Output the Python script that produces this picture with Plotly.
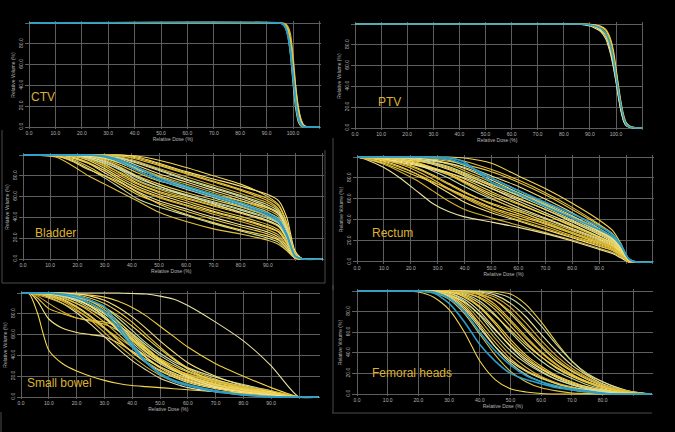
import plotly.graph_objects as go

W, H = 675, 432

# ---- data (relative dose % on x, relative volume % on y) ----
ctv_dose = [0, 95, 96, 97, 98, 99, 100, 101, 102, 103, 104, 105, 110]
ctv_yellow = [
    [100, 100, 99.5, 98, 93, 80, 55, 28, 10, 3, 0.5, 0, 0],
    [100, 100, 100, 99, 96, 86, 62, 32, 12, 4, 1, 0, 0],
    [100, 100, 99, 96, 88, 70, 42, 18, 5, 1, 0, 0, 0],
    [100, 100, 100, 99.5, 97, 90, 70, 40, 16, 5, 1, 0, 0],
    [100, 100, 99, 97, 91, 78, 58, 36, 18, 7, 2, 0.5, 0],
    [100, 100, 99.5, 98, 94, 84, 64, 40, 20, 8, 2, 0.5, 0],
]
ctv_cyan = [
    [100, 100, 99, 96, 88, 72, 48, 24, 8, 2, 0, 0, 0],
    [100, 100, 99.5, 97, 90, 76, 52, 27, 10, 3, 0.5, 0, 0],
]

ptv_dose = [0, 86, 88, 90, 92, 94, 96, 97, 98, 99, 100, 101, 102, 103, 104, 106, 110]
ptv_yellow = [
    [100, 100, 99.5, 98.5, 97, 94, 88, 82, 72, 60, 45, 30, 17, 8, 3, 0.5, 0],
    [100, 100, 100, 99.5, 99, 97.5, 94, 90, 83, 72, 56, 38, 22, 10, 4, 1, 0],
    [100, 100, 99.5, 99, 97.5, 95, 90, 84, 76, 64, 48, 30, 16, 6, 2, 0.5, 0],
    [100, 100, 100, 99.5, 98.5, 96.5, 92, 88, 80, 69, 53, 36, 21, 10, 4, 1, 0],
    [100, 99.8, 99, 98, 96, 93, 86, 79, 70, 58, 44, 28, 15, 6, 2, 0, 0],
    [100, 100, 100, 99.8, 99.3, 98, 95, 91, 85, 75, 58, 40, 24, 12, 5, 1, 0],
]
ptv_cyan = [
    [100, 100, 99.8, 99, 98, 96, 91, 86, 78, 66, 50, 34, 20, 9, 3, 0.5, 0],
]

bladder_dose = [0, 12, 18, 24, 30, 36, 42, 50, 60, 70, 80, 90, 94, 97, 100, 103, 110]
bladder_yellow = [
    [100, 100, 100, 100, 100, 100, 99, 95, 88, 80, 72, 60, 52, 35, 6, 0, 0],
    [100, 100, 100, 100, 100, 99, 96, 90, 82, 74, 66, 56, 48, 30, 5, 0, 0],
    [100, 100, 100, 100, 99, 97, 92, 85, 76, 68, 60, 50, 44, 28, 4, 0, 0],
    [100, 100, 100, 100, 98, 94, 88, 80, 72, 64, 56, 47, 41, 26, 4, 0, 0],
    [100, 100, 100, 99, 97, 92, 85, 76, 67, 59, 51, 42, 37, 24, 3, 0, 0],
    [100, 100, 100, 99, 95, 88, 80, 72, 64, 57, 50, 41, 36, 22, 3, 0, 0],
    [100, 100, 100, 98, 93, 85, 76, 68, 61, 54, 47, 39, 34, 21, 3, 0, 0],
    [100, 100, 99, 97, 91, 82, 73, 65, 58, 51, 44, 36, 31, 19, 2, 0, 0],
    [100, 100, 99, 96, 89, 80, 72, 64, 56, 48, 41, 33, 28, 17, 2, 0, 0],
    [100, 100, 99, 95, 87, 78, 70, 62, 54, 46, 39, 31, 26, 15, 2, 0, 0],
    [100, 100, 98, 93, 85, 76, 67, 59, 51, 43, 36, 28, 23, 13, 1, 0, 0],
    [100, 100, 98, 92, 83, 74, 65, 56, 48, 40, 33, 26, 21, 12, 1, 0, 0],
    [100, 99, 96, 89, 80, 71, 62, 54, 46, 38, 31, 24, 19, 10, 1, 0, 0],
    [100, 99, 95, 87, 78, 68, 58, 50, 42, 34, 27, 20, 16, 8, 1, 0, 0],
    [100, 99, 94, 86, 80, 73, 64, 53, 43, 35, 28, 22, 18, 10, 1, 0, 0],
    [100, 98, 90, 80, 72, 64, 56, 45, 36, 29, 24, 18, 14, 8, 1, 0, 0],
    [100, 100, 100, 100, 100, 100, 98, 92, 84, 77, 70, 62, 56, 40, 8, 0, 0],
    [100, 100, 100, 100, 100, 98, 94, 87, 79, 71, 63, 54, 47, 32, 5, 0, 0],
    [100, 100, 100, 100, 99, 96, 90, 82, 74, 66, 58, 49, 43, 28, 4, 0, 0],
    [100, 100, 100, 99, 96, 90, 83, 75, 69, 62, 56, 49, 45, 30, 5, 0, 0],
    [100, 100, 99, 97, 92, 86, 78, 70, 62, 55, 48, 40, 35, 22, 3, 0, 0],
    [100, 100, 100, 100, 97, 92, 86, 79, 70, 62, 54, 45, 38, 25, 3, 0, 0],
    [100, 100, 100, 100, 100, 99, 97, 91, 83, 75, 67, 58, 51, 34, 5, 0, 0],
    [100, 100, 100, 99, 97, 93, 87, 78, 69, 61, 53, 44, 39, 25, 3, 0, 0],
    [100, 100, 99, 96, 90, 83, 75, 67, 59, 52, 45, 37, 32, 20, 2, 0, 0],
    [100, 100, 100, 98, 94, 87, 79, 70, 61, 53, 45, 37, 32, 20, 2, 0, 0],
    [100, 99, 97, 92, 85, 76, 68, 60, 52, 45, 38, 30, 26, 16, 2, 0, 0],
    [100, 100, 100, 100, 99, 97, 93, 86, 77, 69, 61, 52, 46, 30, 4, 0, 0],
]
bladder_cyan = [
    [100, 100, 100, 100, 99, 95, 88, 78, 70, 62, 54, 44, 38, 24, 3, 0, 0],
    [100, 100, 100, 100, 98, 93, 85, 76, 68, 60, 52, 42, 36, 22, 3, 0, 0],
]

rectum_dose = [0, 4, 10, 16, 22, 28, 34, 40, 50, 60, 70, 80, 90, 95, 98, 101, 104, 110]
rectum_yellow = [
    [100, 100, 100, 100, 100, 100, 100, 99, 94, 82, 70, 56, 40, 30, 18, 3, 0, 0],
    [100, 100, 100, 100, 100, 100, 99, 96, 88, 78, 66, 52, 36, 27, 16, 2, 0, 0],
    [100, 100, 100, 100, 100, 99, 97, 92, 82, 72, 60, 47, 32, 24, 14, 2, 0, 0],
    [100, 100, 100, 100, 99, 97, 93, 87, 76, 66, 55, 42, 29, 21, 12, 1, 0, 0],
    [100, 100, 100, 99, 97, 93, 88, 82, 70, 60, 50, 38, 26, 19, 11, 1, 0, 0],
    [100, 100, 99, 98, 95, 90, 84, 77, 65, 55, 45, 34, 23, 17, 10, 1, 0, 0],
    [100, 100, 99, 97, 93, 87, 80, 72, 60, 50, 41, 31, 21, 15, 9, 1, 0, 0],
    [100, 99, 98, 95, 90, 83, 75, 67, 55, 46, 37, 28, 19, 14, 8, 1, 0, 0],
    [100, 99, 97, 93, 87, 79, 70, 62, 51, 42, 34, 25, 17, 12, 7, 1, 0, 0],
    [100, 99, 96, 91, 84, 75, 66, 57, 47, 39, 31, 23, 15, 11, 6, 0, 0, 0],
    [100, 98, 93, 86, 78, 68, 58, 50, 42, 35, 28, 21, 13, 9, 5, 0, 0, 0],
    [100, 97, 90, 80, 68, 56, 48, 43, 38, 33, 27, 20, 12, 8, 4, 0, 0, 0],
    [100, 98, 94, 88, 82, 76, 70, 63, 52, 44, 36, 27, 18, 13, 7, 1, 0, 0],
    [100, 100, 100, 99, 98, 96, 94, 90, 80, 68, 56, 44, 31, 23, 13, 1, 0, 0],
    [100, 100, 99, 98, 96, 94, 90, 84, 72, 61, 50, 39, 27, 20, 11, 1, 0, 0],
    [100, 100, 100, 100, 99, 98, 96, 93, 86, 76, 64, 50, 35, 26, 15, 2, 0, 0],
    [100, 99, 97, 95, 92, 88, 83, 76, 63, 52, 42, 32, 22, 16, 9, 1, 0, 0],
    [100, 100, 99, 97, 94, 89, 83, 75, 61, 49, 38, 28, 19, 14, 8, 1, 0, 0],
    [100, 99, 98, 96, 93, 89, 85, 80, 70, 58, 47, 36, 24, 18, 10, 1, 0, 0],
    [100, 100, 100, 99, 97, 94, 89, 83, 73, 64, 54, 43, 30, 22, 12, 1, 0, 0],
    [100, 100, 100, 99, 98, 95, 91, 85, 74, 63, 52, 40, 28, 21, 12, 1, 0, 0],
    [100, 100, 99, 97, 94, 90, 85, 79, 67, 56, 45, 35, 24, 18, 10, 1, 0, 0],
    [100, 99, 97, 94, 89, 82, 74, 66, 56, 48, 39, 30, 20, 15, 8, 1, 0, 0],
    [100, 100, 100, 100, 99, 97, 94, 89, 78, 66, 54, 42, 29, 22, 13, 1, 0, 0],
    [100, 98, 95, 90, 84, 77, 69, 61, 49, 40, 32, 24, 16, 11, 6, 0, 0, 0],
]
rectum_cyan = [
    [100, 100, 100, 100, 100, 100, 99.5, 95, 76, 65, 53, 42, 31, 24, 16, 3, 0, 0],
    [100, 100, 100, 100, 100, 99, 98, 93, 80, 68, 57, 46, 34, 26, 17, 3, 0, 0],
]

bowel_dose = [0, 3, 6, 10, 15, 20, 25, 30, 35, 40, 45, 50, 55, 60, 70, 80, 90, 100, 107]
bowel_yellow = [
    [100, 99, 80, 45, 32, 25, 20, 16, 13, 11, 10, 9, 8, 7, 5, 4, 2, 0, 0],
    [100, 100, 95, 85, 80, 76, 73, 70, 64, 55, 44, 34, 26, 20, 12, 7, 3, 0, 0],
    [100, 100, 92, 75, 66, 62, 60, 58, 52, 44, 36, 29, 23, 18, 11, 6, 3, 0, 0],
    [100, 100, 97, 90, 82, 76, 74, 72, 68, 60, 48, 36, 26, 19, 11, 6, 3, 0, 0],
    [100, 100, 100, 100, 100, 100, 100, 100, 100, 99.5, 99, 97, 94, 88, 72, 54, 30, 0, 0],
    [100, 100, 100, 100, 100, 99, 98, 96, 92, 86, 78, 68, 58, 48, 32, 20, 9, 0, 0],
    [100, 100, 100, 100, 99, 97, 93, 86, 76, 64, 52, 42, 34, 28, 19, 12, 6, 0, 0],
    [100, 100, 100, 99, 97, 93, 87, 78, 66, 54, 43, 34, 27, 22, 14, 9, 4, 0, 0],
    [100, 100, 100, 99, 96, 90, 82, 72, 60, 48, 38, 29, 22, 17, 10, 6, 3, 0, 0],
    [100, 100, 100, 98, 94, 87, 78, 67, 55, 43, 33, 25, 19, 14, 8, 4, 2, 0, 0],
    [100, 100, 99, 97, 92, 84, 74, 62, 50, 39, 29, 21, 15, 11, 6, 3, 1, 0, 0],
    [100, 100, 99, 96, 90, 81, 70, 58, 46, 35, 26, 18, 13, 9, 5, 2, 1, 0, 0],
    [100, 100, 100, 100, 99, 98, 95, 90, 82, 72, 60, 48, 37, 28, 17, 10, 5, 0, 0],
    [100, 100, 100, 100, 98, 95, 90, 82, 72, 61, 50, 40, 32, 25, 16, 10, 5, 0, 0],
    [100, 100, 100, 99, 98, 96, 92, 86, 78, 68, 57, 46, 36, 27, 15, 8, 3, 0, 0],
    [100, 100, 99, 98, 95, 90, 84, 76, 66, 56, 46, 37, 30, 24, 15, 9, 4, 0, 0],
    [100, 100, 100, 100, 100, 99, 97, 93, 86, 77, 66, 54, 43, 33, 20, 11, 5, 0, 0],
    [100, 100, 98, 95, 90, 83, 75, 66, 57, 48, 40, 33, 27, 22, 15, 10, 6, 0, 0],
    [100, 100, 100, 99, 97, 94, 88, 80, 70, 58, 46, 35, 26, 19, 10, 5, 2, 0, 0],
    [100, 100, 100, 100, 99, 97, 92, 84, 73, 60, 47, 36, 28, 21, 13, 8, 4, 0, 0],
    [100, 100, 100, 99, 97, 92, 85, 76, 64, 52, 41, 32, 25, 20, 12, 7, 3, 0, 0],
    [100, 100, 100, 100, 99, 96, 90, 81, 69, 56, 44, 34, 26, 20, 12, 7, 3, 0, 0],
    [100, 100, 99, 97, 93, 86, 77, 66, 54, 43, 34, 26, 20, 15, 9, 5, 2, 0, 0],
    [100, 100, 100, 100, 98, 94, 87, 77, 64, 50, 38, 28, 21, 16, 9, 5, 2, 0, 0],
]
bowel_cyan = [
    [100, 100, 100, 100, 99, 97, 93, 87, 70, 51, 34, 22, 15, 11, 5, 2, 0, 0, 0],
    [100, 100, 100, 100, 98, 95, 90, 82, 66, 48, 33, 23, 16, 12, 6, 2, 0.5, 0, 0],
]

femoral_dose = [0, 15, 20, 25, 30, 35, 40, 45, 50, 55, 60, 65, 70, 75, 80, 85, 90, 96]
femoral_yellow = [
    [100, 100, 99, 94, 82, 60, 32, 14, 5, 2, 0.5, 0, 0, 0, 0, 0, 0, 0],
    [100, 100, 100, 98, 92, 78, 58, 38, 22, 12, 6, 3, 1, 0.5, 0, 0, 0, 0],
    [100, 100, 100, 99, 95, 84, 66, 46, 30, 19, 12, 7, 4, 2, 1, 0, 0, 0],
    [100, 100, 100, 99.5, 97, 88, 72, 54, 38, 26, 17, 11, 7, 4, 2, 1, 0, 0],
    [100, 100, 100, 100, 98, 92, 80, 63, 46, 32, 22, 14, 9, 5, 3, 1, 0, 0],
    [100, 100, 100, 100, 99, 95, 85, 70, 53, 38, 27, 18, 12, 7, 4, 2, 1, 0],
    [100, 100, 100, 100, 99.5, 97, 90, 77, 60, 45, 32, 22, 15, 9, 5, 2, 1, 0],
    [100, 100, 100, 100, 100, 98, 93, 82, 66, 50, 36, 25, 17, 11, 6, 3, 1, 0],
    [100, 100, 100, 100, 100, 99, 96, 87, 72, 56, 41, 29, 19, 12, 7, 3, 1, 0],
    [100, 100, 100, 100, 100, 99.5, 97, 91, 78, 62, 46, 32, 22, 14, 8, 4, 1, 0],
    [100, 100, 100, 100, 100, 100, 98, 94, 84, 69, 52, 37, 25, 16, 9, 4, 2, 0],
    [100, 100, 100, 100, 100, 100, 99, 96, 88, 75, 58, 42, 28, 18, 10, 5, 2, 0],
    [100, 100, 100, 100, 100, 100, 100, 99.5, 97, 87, 70, 50, 32, 19, 12, 6, 1, 0],
    [100, 100, 100, 100, 100, 100, 99.5, 98, 93, 82, 66, 48, 32, 20, 12, 6, 2, 0],
    [100, 100, 100, 100, 99, 96, 88, 76, 62, 48, 36, 26, 18, 12, 7, 3, 1, 0],
    [100, 100, 100, 100, 100, 98, 94, 85, 70, 54, 40, 28, 19, 12, 7, 3, 1, 0],
    [100, 100, 100, 99, 96, 89, 77, 62, 47, 34, 24, 16, 10, 6, 3, 1, 0, 0],
    [100, 100, 100, 100, 100, 99, 97, 91, 80, 64, 48, 34, 23, 15, 9, 5, 2, 0],
    [100, 100, 100, 99, 94, 82, 64, 46, 32, 22, 15, 10, 6, 4, 2, 1, 0, 0],
    [100, 100, 100, 99.5, 96, 86, 68, 50, 34, 23, 16, 10, 6, 3, 1, 0, 0, 0],
    [100, 100, 100, 100, 98, 90, 76, 58, 42, 30, 21, 14, 9, 5, 3, 1, 0, 0],
    [100, 100, 100, 100, 99, 94, 84, 68, 50, 36, 25, 17, 11, 7, 4, 2, 1, 0],
]
femoral_cyan = [
    [100, 100, 100, 98, 88, 70, 48, 32, 20, 14, 10, 6, 4, 2, 0.5, 0, 0, 0],
    [100, 100, 100, 99, 93, 80, 60, 42, 28, 18, 12, 8, 5, 3, 1, 0, 0, 0],
]

YELLOWS = ['#f3d54e', '#e6c23c', '#f6e27e', '#d7b232', '#e9e2a0', '#efcd44', '#c9dca4']
CYAN = '#2b9dc9'
GOLD = '#dcb230'
GRID = '#5e5e5e'
TICK = '#b5b5b5'

# panel geometry in pixels: dose-0 x, px per 10%, right end of dose axis,
# last labelled dose tick, y of 100%, y of 0%, label text and position
panels = [
    dict(name='CTV', dose=ctv_dose, yel=ctv_yellow, cy=ctv_cyan,
         x0=29, p10=26.4, xmax=110, lab=100, y100=23, y0=127, tx=29, ty=97),
    dict(name='PTV', dose=ptv_dose, yel=ptv_yellow, cy=ptv_cyan,
         x0=355, p10=26.1, xmax=110, lab=100, y100=24, y0=128, tx=376, ty=102),
    dict(name='Bladder', dose=bladder_dose, yel=bladder_yellow, cy=bladder_cyan,
         x0=23, p10=27.2, xmax=110, lab=90, y100=155, y0=259, tx=33, ty=233),
    dict(name='Rectum', dose=rectum_dose, yel=rectum_yellow, cy=rectum_cyan,
         x0=357, p10=26.9, xmax=110, lab=90, y100=157, y0=262, tx=370, ty=233),
    dict(name='Small bowel', dose=bowel_dose, yel=bowel_yellow, cy=bowel_cyan,
         x0=21, p10=27.8, xmax=107, lab=90, y100=293, y0=397, tx=25, ty=383),
    dict(name='Femoral heads', dose=femoral_dose, yel=femoral_yellow, cy=femoral_cyan,
         x0=357, p10=30.7, xmax=96, lab=80, y100=291, y0=394, tx=370, ty=373),
]

fig = go.Figure()
layout = {}
annotations = []
PAD = 1.5

for i, p in enumerate(panels, 1):
    sfx = '' if i == 1 else str(i)
    ppx = p['p10'] / 10
    ppy = (p['y0'] - p['y100']) / 100
    xl = p['x0'] - PAD * ppx
    xr = p['x0'] + (p['xmax'] + 0.5) * ppx
    yb = p['y0'] + PAD * ppy
    yt = p['y100'] - PAD * ppy

    ticks_x = list(range(0, int(p['xmax']) + 1, 10))
    layout['xaxis' + sfx] = dict(
        domain=[xl / W, xr / W], range=[-PAD, p['xmax'] + 0.5],
        anchor='y' + sfx, tickvals=ticks_x,
        ticktext=[f'{v:.1f}' if v <= p['lab'] else '' for v in ticks_x],
        showgrid=True, gridcolor=GRID, gridwidth=1, zeroline=False,
        showline=False, ticks='', tickfont=dict(size=5, color=TICK),
        title=dict(text='Relative Dose (%)', font=dict(size=5, color=TICK), standoff=1),
    )
    layout['yaxis' + sfx] = dict(
        domain=[1 - yb / H, 1 - yt / H], range=[-PAD, 100 + PAD],
        anchor='x' + sfx, tickvals=[0, 20, 40, 60, 80, 100],
        ticktext=['0.0', '20.0', '40.0', '60.0', '80.0', ''], tickangle=-90,
        showgrid=True, gridcolor=GRID, gridwidth=1, zeroline=False,
        showline=False, ticks='', tickfont=dict(size=5, color=TICK),
        title=dict(text='Relative Volume (%)', font=dict(size=5, color=TICK), standoff=2),
    )

    for k, vol in enumerate(p['yel']):
        fig.add_trace(go.Scatter(
            x=p['dose'], y=vol, xaxis='x' + sfx, yaxis='y' + sfx, mode='lines',
            line=dict(color=YELLOWS[k % len(YELLOWS)], width=1.1, shape='spline', smoothing=0.7),
            hoverinfo='skip', showlegend=False,
        ))
    for vol in p['cy']:
        fig.add_trace(go.Scatter(
            x=p['dose'], y=vol, xaxis='x' + sfx, yaxis='y' + sfx, mode='lines',
            line=dict(color=CYAN, width=1.6, shape='spline', smoothing=0.7),
            hoverinfo='skip', showlegend=False,
        ))

    annotations.append(dict(
        text=p['name'], x=p['tx'] / W, y=1 - p['ty'] / H, xref='paper', yref='paper',
        xanchor='left', yanchor='middle', showarrow=False,
        font=dict(size=12, color=GOLD, family='Liberation Sans'),
    ))

# faint panel frames
frames = [
    (2, 130, 2, 283), (2, 283, 325, 283), (325, 150, 325, 283),
    (333, 138, 333, 290),
    (333, 285, 333, 413), (332, 413, 652, 413),
    (1, 412, 1, 432),
]
shapes = [dict(type='line', xref='paper', yref='paper',
               x0=a / W, y0=1 - b / H, x1=c / W, y1=1 - d / H,
               line=dict(color='#4a4a4a', width=1)) for a, b, c, d in frames]

fig.update_layout(
    width=W, height=H, margin=dict(l=0, r=0, t=0, b=0),
    paper_bgcolor='#000000', plot_bgcolor='#000000',
    font=dict(family='Liberation Sans', color=TICK),
    annotations=annotations, shapes=shapes, showlegend=False,
    **layout,
)

fig.write_html("out.html", config=dict(displayModeBar=False),
               post_script="document.body.style.margin='0';document.body.style.background='#000';")
